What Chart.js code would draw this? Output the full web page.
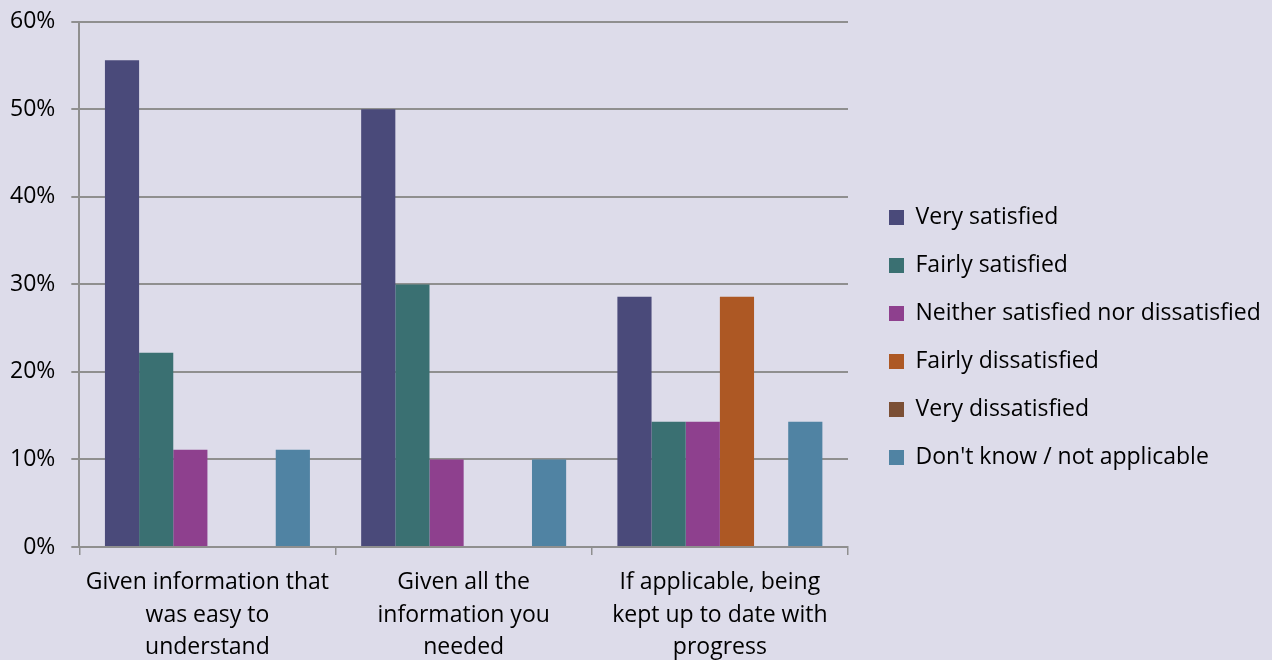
<!DOCTYPE html>
<html>
<head>
<meta charset="utf-8">
<script src="https://cdn.jsdelivr.net/npm/chart.js@4.4.0/dist/chart.umd.min.js"></script>
<style>
  html, body { margin: 0; padding: 0; background: #DDDCEA; }
  #wrap { width: 1272px; height: 660px; position: relative; }
</style>
</head>
<body>
<div id="wrap"><canvas id="chart"></canvas></div>
<script>
const categories = [
  ["Given information that", "was easy to", "understand"],
  ["Given all the", "information you", "needed"],
  ["If applicable, being", "kept up to date with", "progress"]
];
const seriesNames = [
  "Very satisfied",
  "Fairly satisfied",
  "Neither satisfied nor dissatisfied",
  "Fairly dissatisfied",
  "Very dissatisfied",
  "Don't know / not applicable"
];
const verySatisfied = [55.6, 50, 28.6];
const fairlySatisfied = [22.2, 30, 14.3];
const neither = [11.1, 10, 14.3];
const fairlyDissatisfied = [0, 0, 28.6];
const veryDissatisfied = [0, 0, 0];
const dontKnow = [11.1, 10, 14.3];
const yTicks = [0, 10, 20, 30, 40, 50, 60];

const colors = ["#4A4A7A", "#3A7072", "#8E408E", "#AD5824", "#7B4F35", "#5083A3"];
const values = [verySatisfied, fairlySatisfied, neither, fairlyDissatisfied, veryDissatisfied, dontKnow];

const font = "'Open Sans', sans-serif";
const fontSize = 23;
const gridColor = "#8F8F8F";
const legendWidth = 424;   // room kept at the right for the legend
const legendShift = 16;

// chart.js caps a right legend at a quarter of the width, so widen it by hand
const legendPlace = {
  id: "legendPlace",
  afterInit(chart) {
    const lg = chart.legend;
    const fit = lg.fit;
    lg.fit = function () {
      fit.call(this);
      this.width = legendWidth;
    };
  },
  afterLayout(chart) {
    chart.legend.left += legendShift;
  }
};

new Chart(document.getElementById("chart"), {
  type: "bar",
  data: {
    labels: categories,
    datasets: seriesNames.map((name, i) => ({
      label: name,
      data: values[i],
      backgroundColor: colors[i],
      borderWidth: 0,
      categoryPercentage: 0.8,
      barPercentage: 1.0
    }))
  },
  plugins: [legendPlace],
  options: {
    responsive: true,
    maintainAspectRatio: false,
    animation: false,
    layout: { padding: { top: 0, left: -6, right: 0, bottom: -15 } },
    plugins: {
      tooltip: { enabled: false },
      legend: {
        position: "right",
        labels: {
          color: "#000",
          font: { family: font, size: fontSize },
          boxWidth: 15,
          boxHeight: 15,
          padding: 25
        }
      }
    },
    scales: {
      x: {
        grid: {
          drawOnChartArea: false,
          color: gridColor,
          lineWidth: 1.5,
          tickLength: 8
        },
        border: { color: gridColor, width: 2 },
        ticks: {
          color: "#000",
          font: { family: font, size: fontSize, lineHeight: 1.42 },
          padding: 11,
          maxRotation: 0
        }
      },
      y: {
        min: 0,
        max: 60,
        afterBuildTicks: (axis) => { axis.ticks = yTicks.map(v => ({ value: v })); },
        grid: {
          color: gridColor,
          lineWidth: 2,
          tickLength: 8
        },
        border: { color: gridColor, width: 2 },
        ticks: {
          color: "#000",
          font: { family: font, size: fontSize, lineHeight: 0.5 },
          padding: 16,
          callback: (v) => v + "%"
        }
      }
    }
  }
});
</script>
</body>
</html>
